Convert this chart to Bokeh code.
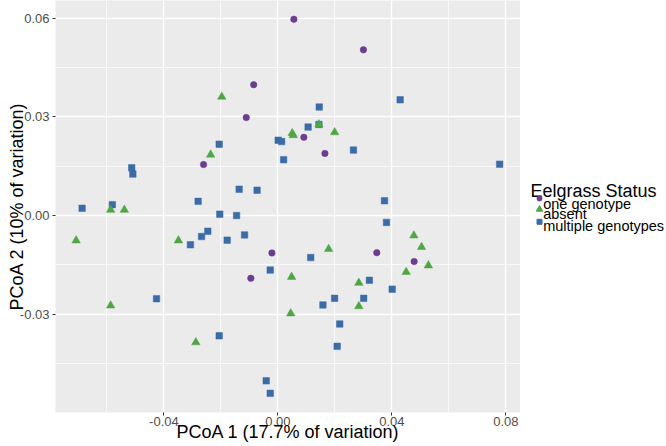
from bokeh.plotting import figure
from bokeh.models import Range1d, FixedTicker, PrintfTickFormatter, ColumnDataSource
from bokeh.layouts import row
from bokeh.embed import file_html
from bokeh.resources import INLINE
from bokeh.core.properties import value

# ---- data ----
one_x = [0.0056, 0.0300, -0.0085, -0.0111, -0.0261, 0.0091, 0.0165, -0.0021, -0.0095, 0.0347, 0.0478]
one_y = [0.0597, 0.0504, 0.0398, 0.0298, 0.0155, 0.0238, 0.0189, -0.0114, -0.0191, -0.0113, -0.0140]

absent_x = [-0.0197, -0.0236, 0.0050, 0.0054, 0.0144, 0.0199, -0.0587, -0.0539, -0.0708, -0.0349,
            -0.0587, -0.0288, 0.0477, 0.0504, 0.0528, 0.0178, 0.0048, 0.0450, 0.0284, 0.0284, 0.0045]
absent_y = [0.0361, 0.0185, 0.0250, 0.0244, 0.0277, 0.0253, 0.0017, 0.0017, -0.0076, -0.0076,
            -0.0274, -0.0386, -0.0061, -0.0096, -0.0152, -0.0102, -0.0187, -0.0172, -0.0205, -0.0276, -0.0298]

multi_x = [-0.0206, 0.0001, 0.0013, 0.0020, -0.0513, -0.0509, -0.0136, -0.0073, -0.0280, -0.0687,
           -0.0581, 0.0429, 0.0145, 0.0106, 0.0144, 0.0265, 0.0778, 0.0374, -0.0204, -0.0145,
           -0.0246, -0.0268, -0.0307, -0.0178, -0.0117, -0.0027, -0.0426, -0.0206, -0.0041, -0.0027,
           0.0381, 0.0115, 0.0321, 0.0401, 0.0199, 0.0301, 0.0158, 0.0217, 0.0208]
multi_y = [0.0217, 0.0229, 0.0225, 0.0170, 0.0145, 0.0126, 0.0080, 0.0077, 0.0043, 0.0022,
           0.0033, 0.0352, 0.0330, 0.0269, 0.0277, 0.0199, 0.0156, 0.0045, 0.0004, 0.0000,
           -0.0048, -0.0064, -0.0089, -0.0075, -0.0059, -0.0166, -0.0253, -0.0366, -0.0503, -0.0541,
           -0.0021, -0.0128, -0.0197, -0.0224, -0.0252, -0.0252, -0.0272, -0.0330, -0.0398]

legend_title = "Eelgrass Status"
legend_labels = ["one genotype", "absent", "multiple genotypes"]
legend_colors = ["#6a3d8f", "#4ea645", "#3b6ca8"]
legend_markers = ["circle", "triangle", "square"]

x_ticks = [-0.04, 0.00, 0.04, 0.08]
x_minor = [-0.06, -0.02, 0.02, 0.06]
y_ticks = [-0.03, 0.00, 0.03, 0.06]
y_minor = [-0.045, -0.015, 0.015, 0.045]

FONT = "Liberation Sans"
FRAME_W, FRAME_H = 465, 412

# ---- main panel ----
p = figure(frame_width=FRAME_W, frame_height=FRAME_H, title=None,
           x_range=Range1d(-0.07804, 0.08512), y_range=Range1d(-0.05993, 0.06541),
           output_backend="svg", toolbar_location=None,
           min_border_left=55, min_border_right=0, min_border_top=0, min_border_bottom=34)
p.background_fill_color = "#EBEBEB"
p.border_fill_color = "white"
p.outline_line_color = None

for ax, ticks, minor in ((p.xaxis[0], x_ticks, x_minor), (p.yaxis[0], y_ticks, y_minor)):
    ax.ticker = FixedTicker(ticks=ticks, minor_ticks=minor)
    ax.formatter = PrintfTickFormatter(format="%.2f")
    ax.axis_line_color = None
    ax.major_tick_line_color = "#333333"
    ax.major_tick_out = 3
    ax.major_tick_in = 0
    ax.minor_tick_line_color = None
    ax.major_label_text_color = "#4d4d4d"
    ax.major_label_text_font = FONT
    ax.major_label_text_font_size = "13px"
    ax.axis_label_text_font = FONT
    ax.axis_label_text_font_style = "normal"
    ax.axis_label_text_color = "black"

p.xaxis.axis_label = "PCoA 1 (17.7% of variation)"
p.xaxis.axis_label_text_font_size = "18px"
p.xaxis.major_label_standoff = 0
p.xaxis.axis_label_standoff = -7
p.yaxis.axis_label = "PCoA 2 (10% of variation)"
p.yaxis.axis_label_text_font_size = "18px"
p.yaxis.major_label_standoff = 2
p.yaxis.axis_label_standoff = -10

for g in (p.xgrid[0], p.ygrid[0]):
    g.grid_line_color = "white"
    g.grid_line_width = 1.4
    g.minor_grid_line_color = "white"
    g.minor_grid_line_width = 0.7

src_multi = ColumnDataSource(dict(x=multi_x, y=multi_y))
src_abs = ColumnDataSource(dict(x=absent_x, y=absent_y))
src_one = ColumnDataSource(dict(x=one_x, y=one_y))
p.scatter("x", "y", source=src_multi, marker="square", size=6.5,
          fill_color=legend_colors[2], line_color=legend_colors[2], line_width=0.5)
p.scatter("x", "y", source=src_abs, marker="triangle", size=8.5,
          fill_color=legend_colors[1], line_color=legend_colors[1], line_width=0.5)
p.scatter("x", "y", source=src_one, marker="circle", size=6.5,
          fill_color=legend_colors[0], line_color=legend_colors[0], line_width=0.5)

# ---- legend panel (frame aligned with the main panel; y measured in px from the top) ----
lg = figure(frame_width=146, frame_height=FRAME_H, title=None,
            x_range=Range1d(0, 146), y_range=Range1d(FRAME_H, 0),
            x_axis_location=None, y_axis_location=None, output_backend="svg",
            toolbar_location=None, min_border_left=0, min_border_right=0,
            min_border_top=0, min_border_bottom=34)
lg.outline_line_color = None
lg.background_fill_color = "white"
lg.border_fill_color = "white"
lg.xgrid.visible = False
lg.ygrid.visible = False

lg.text(x=[10], y=[190.0], text=[legend_title], text_font=value(FONT),
        text_font_size="18px", text_color="black", text_baseline="alphabetic")
key_y = [198.0, 208.8, 221.3]
lab_y = [203.0, 213.8, 225.5]
key_size = [5, 6.5, 5]
for i in range(3):
    lg.scatter([19], [key_y[i]], marker=legend_markers[i], size=key_size[i],
               fill_color=legend_colors[i], line_color=legend_colors[i])
lg.text(x=[22.7] * 3, y=lab_y, text=legend_labels, text_font=value(FONT),
        text_font_size="14.5px", text_color="black", text_baseline="alphabetic")

layout = row(p, lg, spacing=0)
open("out.html", "w").write(file_html(layout, INLINE))
